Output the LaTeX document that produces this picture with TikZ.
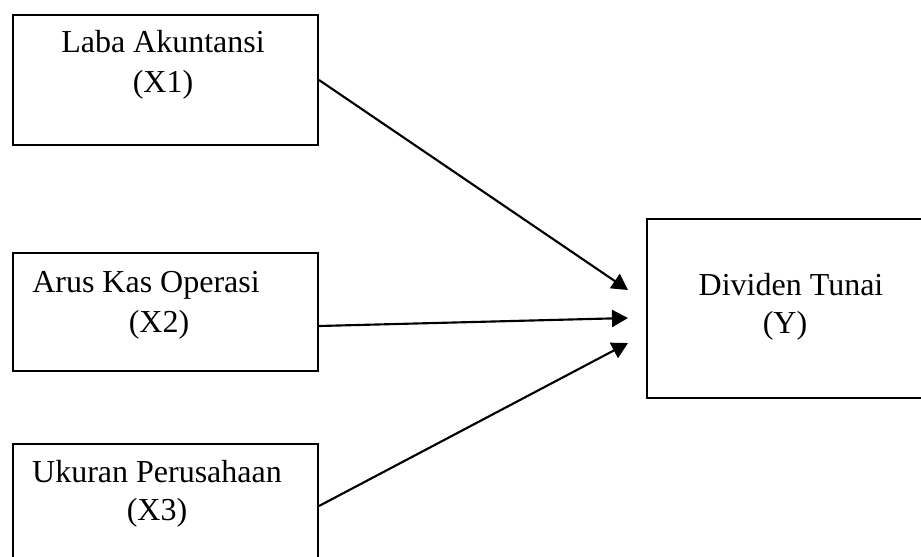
\documentclass[tikz,border=0pt]{standalone}
\usepackage{fontspec}
\setmainfont{Liberation Serif}
\usepackage{tikz}
\usetikzlibrary{arrows.meta,calc}
\newcommand{\pxu}{0.375pt}

\begin{document}
\begin{tikzpicture}[x={(0.375pt,0)}, y={(0,-0.375pt)}]
    \tikzstyle{box} = [draw, line width = 0.75pt, anchor = north west, inner sep = 0pt];
    \tikzstyle{lbl} = [anchor = base, inner sep = 0pt, font = \fontsize{12}{14}\selectfont];
    \tikzstyle{arr} = [line width = 0.8pt, -{Triangle[length=6pt, width=6.4pt]}];
    \clip (0,0) rectangle (921,556);
    % boxes
    \node[box, minimum width = 305*\pxu, minimum height = 130*\pxu] (x1) at (12,14) {};
    \node[box, minimum width = 305*\pxu, minimum height = 118*\pxu] (x2) at (12,252) {};
    \node[box, minimum width = 305*\pxu, minimum height = 124*\pxu] (x3) at (12,443) {};
    \node[box, minimum width = 279*\pxu, minimum height = 179*\pxu] (dy) at (646,218) {};
    % texts
    \foreach \t/\x/\y[count=\i] in {{Laba Akuntansi}/163/53, {(X1)}/163/92,
        {Arus Kas Operasi}/146/292, {(X2)}/159/332,
        {Ukuran Perusahaan}/157/482, {(X3)}/157/520,
        {Dividen Tunai}/791/295, {(Y)}/785/333}
    {\node[lbl] (t\i) at (\x,\y) {\t};}
    % arrows
    \draw[arr] (x1.east) -- ($(dy.west)+(-18,-18.5)$);
    \draw[arr] ($(x2.east)+(0,14)$) -- ($(dy.west)+(-18,9.5)$);
    \draw[arr] (x3.east) -- ($(dy.west)+(-18,34.5)$);
\end{tikzpicture}
\end{document}
